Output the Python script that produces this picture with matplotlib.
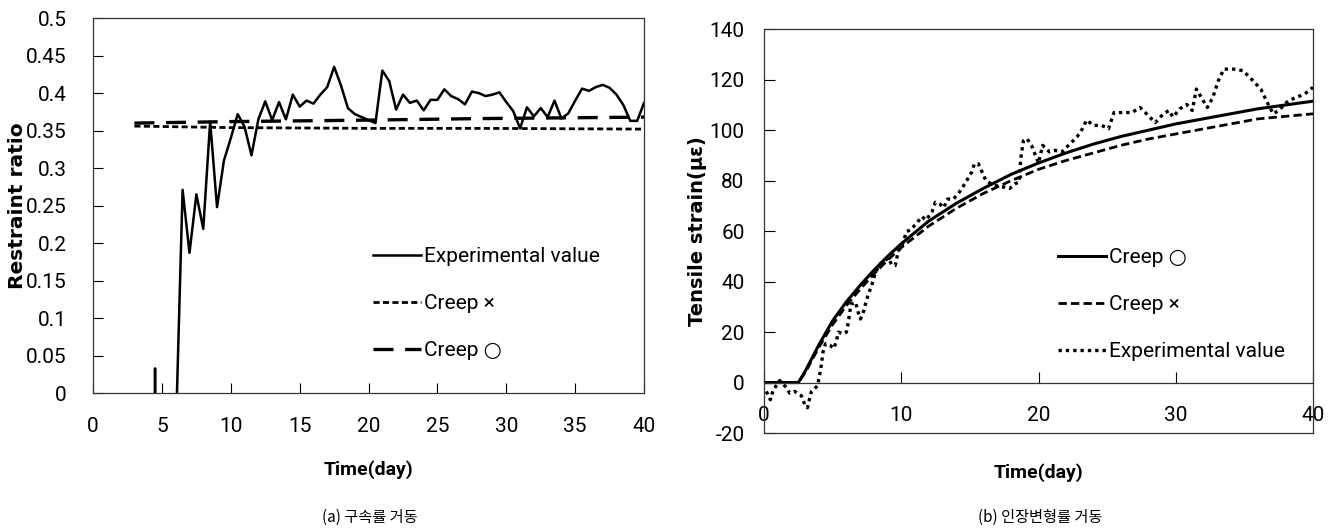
import matplotlib
matplotlib.use("Agg")
import matplotlib.pyplot as plt
import numpy as np

plt.rcParams['axes.unicode_minus'] = False

# ---- (a) restraint ratio ----
ratio_day = [4.0, 4.5, 5.0, 5.5, 6.0, 6.5, 7.0, 7.5, 8.0, 8.5, 9.0, 9.5, 10.0, 10.5,
             11.0, 11.5, 12.0, 12.5, 13.0, 13.5, 14.0, 14.5, 15.0, 15.5, 16.0, 16.5,
             17.0, 17.5, 18.0, 18.5, 19.0, 19.5, 20.0, 20.5, 21.0, 21.5, 22.0, 22.5,
             23.0, 23.5, 24.0, 24.5, 25.0, 25.5, 26.0, 26.5, 27.0, 27.5, 28.0, 28.5,
             29.0, 29.5, 30.0, 30.5, 31.0, 31.5, 32.0, 32.5, 33.0, 33.5, 34.0, 34.5,
             35.0, 35.5, 36.0, 36.5, 37.0, 37.5, 38.0, 38.5, 39.0, 39.5, 40.0]
ratio_exp = [-3.0, 0.033, -3.0, -3.0, -0.06, 0.271, 0.187, 0.265, 0.219, 0.362, 0.248,
             0.31, 0.34, 0.372, 0.355, 0.317, 0.365, 0.389, 0.364, 0.388, 0.365, 0.398,
             0.382, 0.390, 0.386, 0.398, 0.408, 0.435, 0.410, 0.380, 0.372, 0.368, 0.364,
             0.360, 0.430, 0.416, 0.378, 0.398, 0.387, 0.390, 0.377, 0.391, 0.391, 0.405,
             0.396, 0.392, 0.385, 0.402, 0.400, 0.396, 0.398, 0.401, 0.388, 0.376, 0.353,
             0.381, 0.369, 0.380, 0.368, 0.390, 0.366, 0.373, 0.390, 0.406, 0.403, 0.408,
             0.411, 0.407, 0.398, 0.384, 0.363, 0.363, 0.387]
creep_day_a = [3, 10, 20, 28, 40]
creep_no_a = [0.356, 0.354, 0.353, 0.353, 0.352]
creep_yes_a = [0.360, 0.362, 0.364, 0.366, 0.368]

# ---- (b) tensile strain ----
model_day = [0, 2.5, 3, 4, 5, 6, 7, 8, 9, 10, 12, 14, 16, 18, 20, 22, 24, 26, 28, 30,
             32, 34, 36, 38, 40]
creep_yes_b = [0, 0, 4.5, 15, 24.5, 32, 38.5, 44.5, 50, 55, 64, 71, 77, 82.5, 87, 91,
               94.5, 97.5, 100, 102.5, 104.5, 106.5, 108.5, 110, 111.5]
creep_no_b = [0, 0, 4.0, 14, 23, 30.5, 37, 43, 48.5, 53.5, 62, 69, 75, 80, 84.5, 88,
              91, 94, 96.5, 98.5, 100.5, 102.5, 104.5, 105.5, 106.5]
strain_day = [0.17, 0.46, 0.66, 1.14, 1.56, 1.87, 2.24, 2.72, 2.97, 3.16, 3.45, 3.9, 4.14,
              4.3, 4.48, 4.8, 5.09, 5.28, 5.43, 5.77, 6.0, 6.13, 6.33, 6.67, 6.86, 7.03,
              7.27, 7.42, 7.6, 7.83, 8.08, 8.4, 8.69, 9.05, 9.29, 9.56, 9.78, 10.07, 10.39,
              10.68, 11.1, 11.5, 11.8, 12.24, 12.48, 12.82, 13.1, 13.36, 13.8, 14.16, 14.48,
              14.82, 15.13, 15.33, 15.62, 16.16, 16.7, 17.45, 17.9, 18.3, 18.6, 18.7, 18.9,
              19.15, 19.5, 19.76, 20.0, 20.3, 20.8, 21.2, 21.7, 22.3, 22.8, 23.2, 23.5,
              24.0, 24.6, 25.1, 25.5, 26.0, 26.8, 27.4, 28.0, 28.5, 29.1, 29.5, 29.8,
              30.3, 30.8, 31.2, 31.5, 32.0, 32.3, 32.7, 33.1, 33.5, 34.2, 34.9, 35.5,
              36.2, 36.6, 37.1, 37.5, 38.2, 38.8, 39.4, 40.0]
strain_exp = [-3.5, -6.8, -3.1, 0.8, -1.6, -4.2, -3.5, -5.2, -8.8, -10, -3.5, -1.3, 5.6,
              12.2, 15.4, 14.8, 13.5, 16.7, 20, 19.3, 20, 23.5, 31, 31.8, 27.8, 25.2,
              28.5, 31.8, 35, 38.3, 42.9, 46.8, 47.8, 49.4, 46.8, 46.4, 52, 54.6, 59.9,
              60.5, 63, 65.8, 64.4, 67.7, 71.4, 70.7, 69.3, 72.7, 72.7, 74.9, 77.5,
              80.5, 83.4, 86.7, 86.7, 80.1, 78.2, 77.5, 76.9, 78.8, 79.5, 88.6, 95.8,
              96.7, 93.9, 90.2, 87, 94, 91.4, 92, 91.4, 94.6, 97.3, 100.6, 104,
              101.9, 101.9, 100.6, 107, 107, 107, 109, 105.8, 103, 106.5, 107.8, 105.2,
              108.5, 110.2, 107.8, 116.3, 111.7, 109, 113, 119.6, 124.2, 124.2, 123.6, 120.3,
              116.3, 111.7, 106.5, 107.8, 111.7, 113, 114.4, 117]

tick_font = ['Roboto', 'DejaVu Sans']
cjk_font = ['Noto Sans CJK KR', 'DejaVu Sans']

fig = plt.figure(figsize=(13.39, 5.32), dpi=100)
ax1 = fig.add_axes([0.0695, 0.261, 0.4115, 0.705])
ax2 = fig.add_axes([0.5706, 0.186, 0.410, 0.759])

# (a)
ax1.plot(ratio_day, ratio_exp, color='black', lw=1.8, label='Experimental value')
ax1.plot(creep_day_a, creep_no_a, color='black', lw=2.0, linestyle=(0, (2.2, 1.2)),
         label='Creep \u00d7')
ax1.plot(creep_day_a, creep_yes_a, color='black', lw=2.4, linestyle=(0, (6, 3.5)),
         label='Creep \u25cb')
ax1.set_xlim(0, 40)
ax1.set_ylim(0, 0.5)
ax1.set_xticks(np.arange(0, 41, 5))
ax1.set_yticks(np.arange(0, 0.51, 0.05))
ax1.set_yticklabels(['0', '0.05', '0.1', '0.15', '0.2', '0.25', '0.3', '0.35', '0.4',
                     '0.45', '0.5'])
ax1.tick_params(direction='in', length=7, width=0.8, labelsize=15)
ax1.tick_params(axis='y', pad=19)
ax1.tick_params(axis='x', pad=17)
ax1.set_ylabel('Restraint ratio', fontsize=14.5, fontweight='bold')
ax1.yaxis.set_label_coords(-0.12, 0.5)
ax1.set_xlabel('Time(day)', fontsize=14, fontweight='bold', family=tick_font)
ax1.xaxis.set_label_coords(0.5, -0.18)
ax1.legend(loc='upper left', bbox_to_anchor=(0.508, 0.39), frameon=False,
           prop={'family': tick_font, 'size': 15}, handlelength=2.3, handletextpad=0.15,
           labelspacing=1.35, borderpad=0, borderaxespad=0)

# (b)
ax2.plot(model_day, creep_yes_b, color='black', lw=2.2, label='Creep \u25cb')
ax2.plot(model_day, creep_no_b, color='black', lw=2.0, linestyle=(0, (3, 1.5)),
         label='Creep \u00d7')
ax2.plot(strain_day, strain_exp, color='black', lw=2.4, linestyle=(0, (1, 1.2)),
         label='Experimental value')
ax2.set_xlim(0, 40)
ax2.set_ylim(-20, 140)
ax2.set_xticks(np.arange(0, 41, 10))
ax2.set_yticks(np.arange(-20, 141, 20))
ax2.spines['bottom'].set_position(('data', 0))
ax2.axhline(-20, color='#333333', lw=0.9, clip_on=False)
ax2.tick_params(direction='in', length=8, width=0.8, labelsize=15)
ax2.tick_params(axis='y', pad=14)
ax2.tick_params(axis='x', pad=17)
ax2.set_ylabel('Tensile strain(\u03bc\u03b5)', fontsize=14, fontweight='bold')
ax2.yaxis.set_label_coords(-0.104, 0.5)
ax2.text(0.5, -0.075, 'Time(day)', transform=ax2.transAxes, ha='center', va='top',
         fontsize=14, fontweight='bold', family=tick_font)
ax2.legend(loc='upper left', bbox_to_anchor=(0.536, 0.458), frameon=False,
           prop={'family': tick_font, 'size': 15}, handlelength=2.3, handletextpad=0.15,
           labelspacing=1.35, borderpad=0, borderaxespad=0)

for ax in (ax1, ax2):
    for s in ax.spines.values():
        s.set_color('#333333')
        s.set_linewidth(0.9)
    for lab in ax.get_xticklabels() + ax.get_yticklabels():
        lab.set_family(tick_font)

fig.text(370 / 1339, 1 - 517 / 532, '(a) \uad6c\uc18d\ub960 \uac70\ub3d9', ha='center',
         va='center', fontsize=11, family=cjk_font)
fig.text(1040 / 1339, 1 - 517 / 532, '(b) \uc778\uc7a5\ubcc0\ud615\ub960 \uac70\ub3d9',
         ha='center', va='center', fontsize=11, family=cjk_font)

fig.savefig('out.png', dpi=100)
